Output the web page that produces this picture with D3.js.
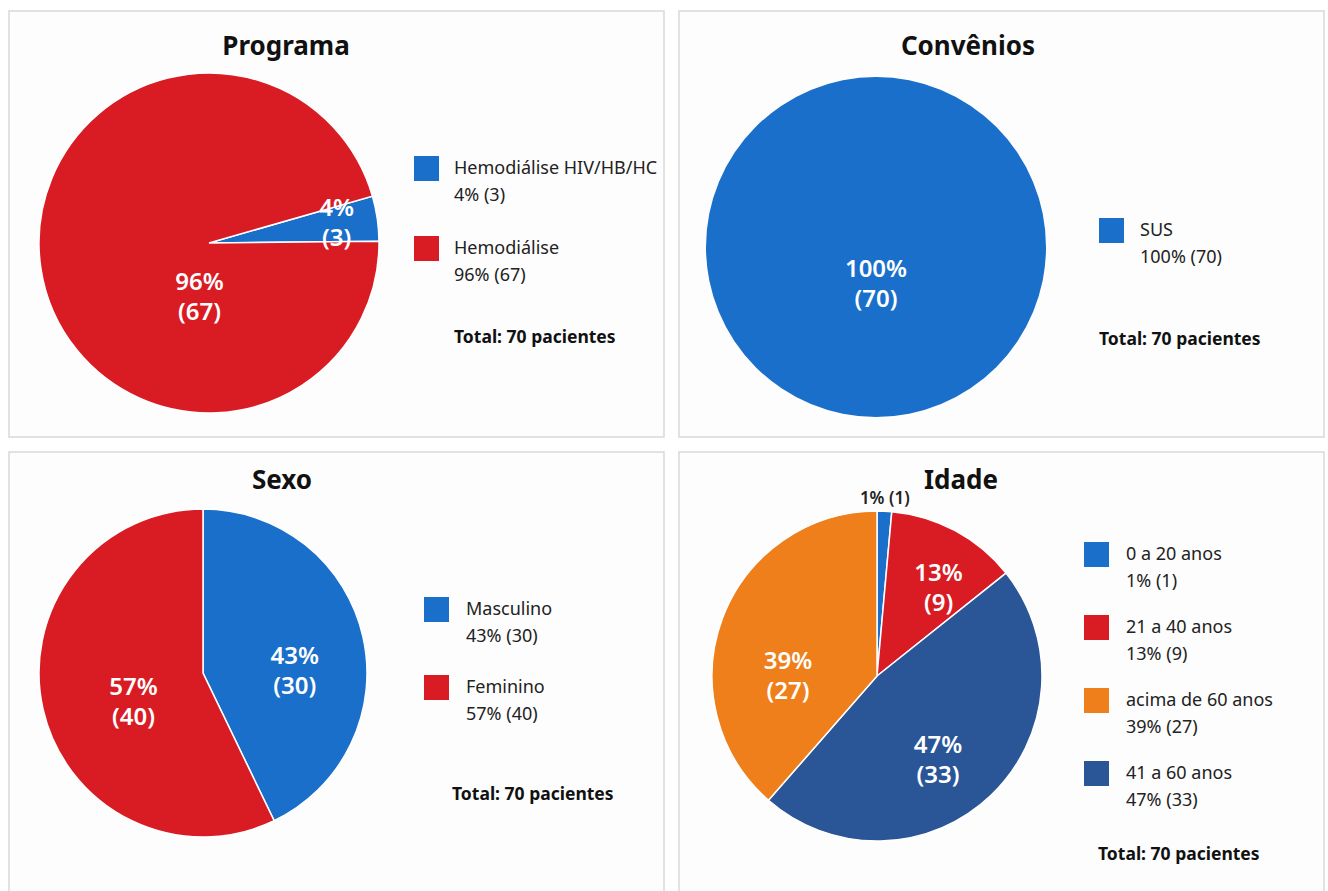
<html>
<head>
<meta charset="utf-8">
<style>
  body { margin: 0; background: #ffffff; }
  text { font-family: "Noto Sans", "Open Sans", sans-serif; }
</style>
<script src="https://d3js.org/d3.v7.min.js"></script>
</head>
<body>
<script>
// data
var programaLabels = ["Hemodiálise HIV/HB/HC", "Hemodiálise"];
var programaValues = [3, 67];
var programaColors = ["#1a6fca", "#d91c24"];

var conveniosLabels = ["SUS"];
var conveniosValues = [70];
var conveniosColors = ["#1a6fca"];

var sexoLabels = ["Masculino", "Feminino"];
var sexoValues = [30, 40];
var sexoColors = ["#1a6fca", "#d91c24"];

// pie order (clockwise from the top)
var idadeLabels = ["0 a 20 anos", "21 a 40 anos", "41 a 60 anos", "acima de 60 anos"];
var idadeValues = [1, 9, 33, 27];
var idadeColors = ["#1a6fca", "#d91c24", "#2a5597", "#ee7f1b"];
var idadeLegendOrder = [0, 1, 3, 2];

var totalText = "Total: 70 pacientes";

var W = 1328, H = 891;
var svg = d3.select("body").append("svg").attr("width", W).attr("height", H);

var panels = [
  { title: "Programa", labels: programaLabels, values: programaValues, colors: programaColors,
    box: [9, 11, 655, 426], cx: 209, cy: 243, r: 170, titleX: 286, titleY: 55,
    start: 74, labelPos: [[81, 0.76], [190, 0.32]], outside: [],
    legX: 414, legY: 156, legStep: 80, textX: 454, totalX: 454, totalY: 343 },
  { title: "Convênios", labels: conveniosLabels, values: conveniosValues, colors: conveniosColors,
    box: [679, 11, 645, 426], cx: 876, cy: 247, r: 170, titleX: 968, titleY: 55,
    start: 0, labelPos: [[180, 0.22]], outside: [],
    legX: 1099, legY: 218, legStep: 80, textX: 1140, totalX: 1099, totalY: 345 },
  { title: "Sexo", labels: sexoLabels, values: sexoValues, colors: sexoColors,
    box: [9, 452, 655, 450], cx: 203, cy: 673, r: 164, titleX: 282, titleY: 489,
    start: 0, labelPos: [[89, 0.56], [247, 0.46]], outside: [],
    legX: 424, legY: 597, legStep: 78, textX: 466, totalX: 452, totalY: 800 },
  { title: "Idade", labels: idadeLabels, values: idadeValues, colors: idadeColors,
    box: [679, 452, 645, 450], cx: 877, cy: 676, r: 165, titleX: 961, titleY: 489,
    start: 0, labelPos: [[2.5, 1.08], [35, 0.65], [144, 0.63], [270, 0.54]], outside: [0],
    legX: 1084, legY: 542, legStep: 73, textX: 1126, totalX: 1098, totalY: 860,
    order: idadeLegendOrder }
];

var rad = Math.PI / 180;

function drawPanel(p) {
  var total = d3.sum(p.values);
  var g = svg.append("g");

  g.append("rect")
    .attr("x", p.box[0]).attr("y", p.box[1])
    .attr("width", p.box[2]).attr("height", p.box[3])
    .attr("fill", "#fdfdfd")
    .attr("stroke", "#d9d9d9")
    .attr("stroke-width", 1.5);

  g.append("text")
    .attr("x", p.titleX).attr("y", p.titleY)
    .attr("text-anchor", "middle")
    .style("font-size", "26px")
    .style("font-weight", "bold")
    .attr("fill", "#111")
    .text(p.title);

  var pie = d3.pie().sort(null)
    .startAngle(p.start * rad)
    .endAngle(p.start * rad + 2 * Math.PI);
  var arcs = pie(p.values);
  var arc = d3.arc().innerRadius(0).outerRadius(p.r);

  var pg = g.append("g").attr("transform", "translate(" + p.cx + "," + p.cy + ")");
  pg.selectAll("path")
    .data(arcs)
    .enter()
    .append("path")
    .attr("d", arc)
    .attr("fill", function(d, i) { return p.colors[i]; })
    .attr("stroke", p.values.length > 1 ? "#ffffff" : "none")
    .attr("stroke-width", 1.5);

  // slice labels
  arcs.forEach(function(d, i) {
    var pos = d3.pointRadial(p.labelPos[i][0] * rad, p.labelPos[i][1] * p.r);
    var pct = Math.round(d.value / total * 100) + "%";
    if (p.outside.indexOf(i) >= 0) {
      pg.append("text")
        .attr("x", pos[0]).attr("y", pos[1] + 6)
        .attr("text-anchor", "middle")
        .style("font-size", "17px")
        .style("font-weight", 600)
        .attr("fill", "#222")
        .text(pct + " (" + d.value + ")");
    } else {
      var t = pg.append("text")
        .attr("text-anchor", "middle")
        .style("font-size", "24px")
        .style("font-weight", 600)
        .attr("fill", "#ffffff");
      t.append("tspan").attr("x", pos[0]).attr("y", pos[1] - 7).text(pct);
      t.append("tspan").attr("x", pos[0]).attr("y", pos[1] + 23).text("(" + d.value + ")");
    }
  });

  // legend
  var order = p.order || d3.range(p.values.length);
  order.forEach(function(idx, k) {
    var y = p.legY + k * p.legStep;
    g.append("rect")
      .attr("x", p.legX).attr("y", y)
      .attr("width", 25).attr("height", 25)
      .attr("fill", p.colors[idx]);
    var t = g.append("text")
      .style("font-size", "18px")
      .attr("fill", "#222");
    t.append("tspan").attr("x", p.textX).attr("y", y + 18).text(p.labels[idx]);
    t.append("tspan").attr("x", p.textX).attr("y", y + 45)
      .text(Math.round(p.values[idx] / total * 100) + "% (" + p.values[idx] + ")");
  });

  g.append("text")
    .attr("x", p.totalX).attr("y", p.totalY)
    .style("font-size", "17.5px")
    .style("font-weight", "bold")
    .attr("fill", "#111")
    .text(totalText);
}

panels.forEach(drawPanel);
</script>
</body>
</html>
